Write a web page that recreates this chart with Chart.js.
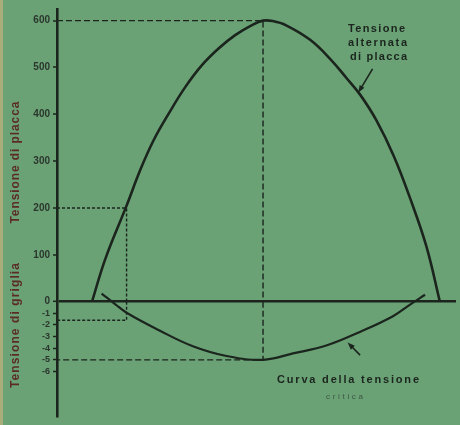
<!DOCTYPE html>
<html>
<head>
<meta charset="utf-8">
<script src="https://cdn.jsdelivr.net/npm/chart.js@4.4.1/dist/chart.umd.min.js"></script>
<style>
  html, body { margin: 0; padding: 0; background: #6aa276; }
  #chart_box { position: relative; width: 460px; height: 425px; }
</style>
</head>
<body>
<div id="chart_box"><canvas id="chart"></canvas></div>
<script>
// Phase (degrees) and plate voltage of the half wave
const PLATE_X = [0, 7, 18, 25, 32, 40, 48.5, 57, 66, 74.5, 83, 89, 94, 101, 113.5, 124, 132.5, 139.5, 148, 157, 165.5, 174, 181];
const PLATE_V = [0, 92, 205, 280, 344, 402, 458, 504, 541, 569, 590, 600, 599, 590, 559, 518, 477, 442, 387, 311, 221, 118, 0];

// Critical grid voltage over the same phase
const GRID_X = [5, 12, 18, 35.4, 52.5, 70, 89, 104.6, 122.3, 139.4, 156.6, 165.5, 173.3];
const GRID_V = [0.7, -0.2, -0.95, -2.5, -3.83, -4.67, -5, -4.45, -3.75, -2.6, -1.25, -0.25, 0.6];

const PLATE_TICKS = [0, 100, 200, 300, 400, 500, 600];
const GRID_TICKS = [-1, -2, -3, -4, -5, -6];

// Reading guides: [phase, plate voltage, grid voltage]
const PEAK_GUIDE = [89, 600, -5];
const LOW_GUIDE = [18, 200, -1.6];

const X_MIN = -18.2;
const X_MAX = 189.4;

const INK = '#1b251d';
const TITLE_INK = '#5b2c26';
const TICK_INK = '#2b362d';

function xy(xs, ys) {
    return xs.map((x, i) => ({ x: x, y: ys[i] }));
}

function guide_sets(g, dash) {
    return [
        { data: [{ x: X_MIN, y: g[1] }, { x: g[0], y: g[1] }, { x: g[0], y: 0 }], yAxisID: 'y', borderDash: dash },
        { data: [{ x: g[0], y: 0 }, { x: g[0], y: g[2] }, { x: X_MIN, y: g[2] }], yAxisID: 'y2', borderDash: dash }
    ].map(d => Object.assign(d, { borderColor: INK, borderWidth: 1.4, pointRadius: 0, tension: 0 }));
}

// spread the letters so the text fills the given width
function fit_text(ctx, text, left, y, width) {
    ctx.letterSpacing = '0px';
    let w = ctx.measureText(text).width;
    let gap = (width - w) / (text.length - 1);
    ctx.letterSpacing = gap + 'px';
    ctx.fillText(text, left, y);
    ctx.letterSpacing = '0px';
}

function draw_arrow(ctx, x0, y0, x1, y1) {
    let a = Math.atan2(y1 - y0, x1 - x0);
    ctx.beginPath();
    ctx.moveTo(x0, y0);
    ctx.lineTo(x1 - 4 * Math.cos(a), y1 - 4 * Math.sin(a));
    ctx.stroke();
    ctx.beginPath();
    ctx.moveTo(x1, y1);
    ctx.lineTo(x1 - 8 * Math.cos(a - 0.35), y1 - 8 * Math.sin(a - 0.35));
    ctx.lineTo(x1 - 8 * Math.cos(a + 0.35), y1 - 8 * Math.sin(a + 0.35));
    ctx.closePath();
    ctx.fill();
}

const paper_plugin = {
    id: 'paper',
    beforeDraw(chart) {
        let ctx = chart.ctx;
        ctx.save();
        ctx.fillStyle = '#6aa276';
        ctx.fillRect(0, 0, chart.width, chart.height);
        ctx.fillStyle = '#a9ad79';
        ctx.fillRect(0, 0, 3, chart.height);
        ctx.restore();
    },
    afterDraw(chart) {
        let ctx = chart.ctx;
        let xs = chart.scales.x, ys = chart.scales.y, gs = chart.scales.y2;
        ctx.save();
        ctx.textBaseline = 'middle';

        // grid voltage tick labels, sharing the plate axis line
        ctx.textAlign = 'right';
        ctx.fillStyle = TICK_INK;
        ctx.font = 'bold 9px "Liberation Sans"';
        GRID_TICKS.forEach(v => ctx.fillText(String(v), ys.left + 50, gs.getPixelForValue(v)));

        ctx.textAlign = 'left';
        // axis titles
        ctx.fillStyle = TITLE_INK;
        ctx.font = 'bold 12px "Liberation Sans"';
        [['Tensione di placca', ys.getPixelForValue(297), 122],
         ['Tensione di griglia', gs.getPixelForValue(-2.05), 125]].forEach(t => {
            ctx.save();
            ctx.translate(16, t[1]);
            ctx.rotate(-Math.PI / 2);
            fit_text(ctx, t[0], -t[2] / 2, 0, t[2]);
            ctx.restore();
        });

        // curve labels
        ctx.fillStyle = INK;
        ctx.font = 'bold 11px "Liberation Sans"';
        fit_text(ctx, 'Tensione', 348, 29, 57);
        fit_text(ctx, 'alternata', 348, 43, 59);
        fit_text(ctx, 'di placca', 350, 57, 57);
        fit_text(ctx, 'Curva della tensione', 277, 380, 142);
        ctx.fillStyle = '#3c5642';
        ctx.font = '8px "Liberation Sans"';
        fit_text(ctx, 'critica', 326, 397, 37);

        ctx.strokeStyle = INK;
        ctx.fillStyle = INK;
        ctx.lineWidth = 1.6;
        draw_arrow(ctx, xs.getPixelForValue(146), ys.getPixelForValue(497),
                        xs.getPixelForValue(138.5), ys.getPixelForValue(446));
        draw_arrow(ctx, xs.getPixelForValue(139.5), gs.getPixelForValue(-4.6),
                        xs.getPixelForValue(133), gs.getPixelForValue(-3.5));
        ctx.restore();
    }
};

const tick_font = { family: 'Liberation Sans', weight: 'bold', size: 10 };

new Chart(document.getElementById('chart'), {
    type: 'line',
    data: {
        datasets: [
            {
                data: xy(PLATE_X, PLATE_V),
                yAxisID: 'y',
                borderColor: INK,
                borderWidth: 2.6,
                pointRadius: 0,
                tension: 0.4
            },
            {
                data: xy(GRID_X, GRID_V),
                yAxisID: 'y2',
                borderColor: INK,
                borderWidth: 2.2,
                pointRadius: 0,
                tension: 0.4
            }
        ].concat(guide_sets(PEAK_GUIDE, [6, 3]), guide_sets(LOW_GUIDE, [3, 2]))
    },
    options: {
        responsive: true,
        maintainAspectRatio: false,
        animation: false,
        layout: { padding: { top: 5, right: 4, bottom: 0, left: 0 } },
        plugins: { legend: { display: false }, tooltip: { enabled: false } },
        scales: {
            x: { type: 'linear', display: false, min: X_MIN, max: X_MAX },
            y: {
                position: 'left',
                weight: 1,
                min: -244.1,
                max: 624.8,
                afterBuildTicks: (scale) => { scale.ticks = PLATE_TICKS.map(v => ({ value: v })); },
                afterFit: (scale) => { scale.width = 57; },
                ticks: { autoSkip: false, padding: 3, color: TICK_INK, font: tick_font },
                border: { display: true, color: INK, width: 2.6 },
                grid: {
                    drawOnChartArea: true,
                    tickLength: 4,
                    tickColor: INK,
                    tickWidth: 1.5,
                    color: (c) => c.tick && c.tick.value === 0 ? INK : 'rgba(0,0,0,0)',
                    lineWidth: (c) => c.tick && c.tick.value === 0 ? 2.6 : 0
                }
            },
            y2: {
                position: 'left',
                weight: 0,
                min: -9.83,
                max: 25.17,
                afterBuildTicks: (scale) => { scale.ticks = GRID_TICKS.map(v => ({ value: v })); },
                afterFit: (scale) => { scale.width = 0; },
                ticks: { display: false },
                border: { display: false },
                grid: { drawOnChartArea: false, tickLength: 4, tickColor: INK, tickWidth: 1.5 }
            }
        }
    },
    plugins: [paper_plugin]
});
</script>
</body>
</html>
